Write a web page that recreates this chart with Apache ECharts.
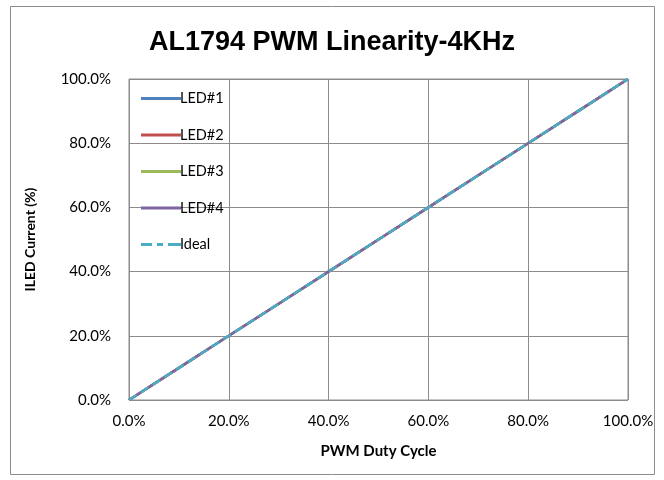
<!DOCTYPE html>
<html><head><meta charset="utf-8">
<script src="https://cdn.jsdelivr.net/npm/echarts@6/dist/echarts.min.js"></script>
<style>html,body{margin:0;padding:0;background:#fff}#c{width:664px;height:480px}</style>
</head><body><div id="c"></div>
<script>
var duty = [0, 10, 20, 30, 40, 50, 60, 70, 80, 90, 100];
var led1 = [0, 10, 20, 30, 40, 50, 60, 70, 80, 90, 100];
var led2 = [0, 10, 20, 30, 40, 50, 60, 70, 80, 90, 100];
var led3 = [0, 10, 20, 30, 40, 50, 60, 70, 80, 90, 100];
var led4 = [0, 10, 20, 30, 40, 50, 60, 70, 80, 90, 100];
var ideal = [0, 10, 20, 30, 40, 50, 60, 70, 80, 90, 100];
var seriesNames = ['LED#1', 'LED#2', 'LED#3', 'LED#4', 'Ideal'];
var colors = ['#4F81BD', '#C0504D', '#9BBB59', '#8064A2', '#4BACC6'];

function pairs(ys) { return duty.map(function (x, i) { return [x, ys[i]]; }); }
var allData = [led1, led2, led3, led4, ideal];
var labelFont = 'Lato, "Open Sans", sans-serif';
var solidIcon = 'path://M0,0 L40,0 L40,3 L0,3 Z';
var dashIcon = 'path://M0,0 L11,0 L11,3 L0,3 Z M16,0 L22,0 L22,3 L16,3 Z M27,0 L40,0 L40,3 L27,3 Z';

var chart = echarts.init(document.getElementById('c'));
chart.setOption({
  animation: false,
  backgroundColor: '#fff',
  title: {
    text: 'AL1794 PWM Linearity-4KHz',
    left: 'center', top: 24,
    textStyle: { fontFamily: '"Liberation Sans", Arial, sans-serif', fontWeight: 'bold', fontSize: 27, color: '#000' }
  },
  graphic: [{
    type: 'rect', shape: { x: 10.5, y: 6.5, width: 644, height: 468 },
    style: { fill: null, stroke: '#8c8c8c', lineWidth: 1 }, silent: true
  }],
  grid: { left: 129, right: 36, top: 79, bottom: 80, show: true, borderColor: '#8c8c8c', borderWidth: 1 },
  legend: {
    orient: 'vertical', left: 136, top: 86,
    itemWidth: 40, itemHeight: 14, itemGap: 21.5,
    textStyle: { fontFamily: labelFont, fontSize: 14.5, color: '#000', padding: [0, 0, 0, -6] },
    data: seriesNames.map(function (n, i) {
      return { name: n, icon: i === 4 ? dashIcon : solidIcon };
    })
  },
  xAxis: {
    type: 'value', min: 0, max: 100, interval: 20,
    name: 'PWM Duty Cycle', nameLocation: 'middle', nameGap: 44,
    nameTextStyle: { fontFamily: labelFont, fontWeight: 'bold', fontSize: 15, color: '#000' },
    axisLine: { show: false }, axisTick: { show: false },
    splitLine: { show: true, lineStyle: { color: '#8c8c8c', width: 1 } },
    axisLabel: { margin: 14, fontFamily: labelFont, fontSize: 15, color: '#000',
      formatter: function (v) { return v.toFixed(1) + '%'; } }
  },
  yAxis: {
    type: 'value', min: 0, max: 100, interval: 20,
    name: 'ILED Current (%)', nameLocation: 'middle', nameGap: 92, nameRotate: 90,
    nameTextStyle: { fontFamily: labelFont, fontWeight: 'bold', fontSize: 14, color: '#000' },
    axisLine: { show: false }, axisTick: { show: false },
    splitLine: { show: true, lineStyle: { color: '#8c8c8c', width: 1 } },
    axisLabel: { margin: 18, fontFamily: labelFont, fontSize: 15, color: '#000',
      formatter: function (v) { return v.toFixed(1) + '%'; } }
  },
  series: seriesNames.map(function (n, i) {
    return {
      name: n, type: 'line', data: pairs(allData[i]), showSymbol: false, symbol: 'none',
      lineStyle: { color: colors[i], width: 2.5, type: i === 4 ? [9, 5] : 'solid' },
      itemStyle: { color: colors[i] }
    };
  })
});
</script></body></html>
